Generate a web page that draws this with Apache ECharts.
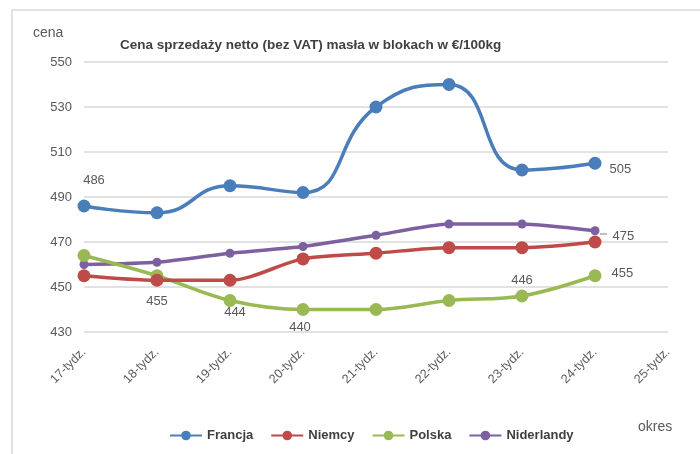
<!DOCTYPE html>
<html><head><meta charset="utf-8">
<script src="https://cdn.jsdelivr.net/npm/echarts@6/dist/echarts.min.js"></script>
<style>html,body{margin:0;padding:0;background:#fff}#c{width:700px;height:454px}</style>
</head><body><div id="c"></div>
<script>
const categories = ['17-tydz.','18-tydz.','19-tydz.','20-tydz.','21-tydz.','22-tydz.','23-tydz.','24-tydz.','25-tydz.'];
const francja = [486, 483, 495, 492, 530, 540, 502, 505];
const niemcy = [455, 453, 453, 462.5, 465, 467.5, 467.5, 470];
const polska = [464, 455, 444, 440, 440, 444, 446, 455];
const niderlandy = [460, 461, 465, 468, 473, 478, 478, 475];
const seriesNames = ['Francja','Niemcy','Polska','Niderlandy'];
const yTicks = [430, 450, 470, 490, 510, 530, 550];

const FONT = "'Liberation Sans',sans-serif";
const labelStyle = {color:'#595959', fontSize:13, fontFamily:FONT};
// which points get a value label, and where
const labelSpec = {
  Francja: {0:{position:'top', offset:[10,-8]}, 7:{position:'right', offset:[3,6]}},
  Niemcy: {},
  Polska: {1:{position:'bottom', offset:[0,8]}, 2:{position:'bottom', offset:[5,-6]}, 3:{position:'bottom', offset:[-3,0]}, 6:{position:'top', offset:[0,2]}, 7:{position:'right', offset:[5,-2]}},
  Niderlandy: {7:{position:'right', offset:[8,6]}}
};
function build(name, vals){
  return vals.map((v,i)=>{
    const s = labelSpec[name][i];
    if(!s) return v;
    return {value:v, label:Object.assign({show:true, formatter:()=>String(Math.round(v))}, labelStyle, s)};
  });
}
const colors = ['#4a7ebb','#be4b48','#98b954','#7d60a0'];
const chart = echarts.init(document.getElementById('c'));
const mk = (name, vals, idx, size, smooth) => ({
  name, type:'line', data:build(name, vals), smooth,
  symbol:'circle', symbolSize:size, showSymbol:true,
  lineStyle:{width:3.5, color:colors[idx]}, itemStyle:{color:colors[idx]},
  label:{show:false}, emphasis:{disabled:true}, z:10-idx
});
chart.setOption({
  animation:false,
  color:colors,
  graphic:[
    {type:'rect', shape:{x:12,y:10,width:700,height:460}, style:{fill:'none', stroke:'#d9d9d9', lineWidth:1.5}, z:-1},
    {type:'text', x:120, y:45, style:{text:'Cena sprzedaży netto (bez VAT) masła w blokach w €/100kg', font:"bold 13.5px "+FONT, fill:'#404040', verticalAlign:'middle'}},
    {type:'text', x:33, y:33, style:{text:'cena', font:"14px "+FONT, fill:'#595959', verticalAlign:'middle'}},
    {type:'text', x:638, y:427, style:{text:'okres', font:"14px "+FONT, fill:'#595959', verticalAlign:'middle'}},
    {type:'line', shape:{x1:600,y1:234,x2:607,y2:234}, style:{stroke:'#7f7f7f', lineWidth:1}}
  ],
  grid:{left:84, right:32, top:62, bottom:122},
  legend:{
    data:seriesNames, bottom:7, left:164, itemWidth:32, itemHeight:12, itemGap:17,
    textStyle:{color:'#404040', fontSize:13, fontWeight:'bold', fontFamily:FONT}
  },
  xAxis:{
    type:'category', data:categories, boundaryGap:false,
    axisLine:{show:false}, axisTick:{show:false},
    axisLabel:{rotate:45, color:'#595959', fontSize:12.5, fontFamily:FONT, margin:18, interval:0}
  },
  yAxis:{
    type:'value', min:430, max:550, interval:20,
    axisLine:{show:false}, axisTick:{show:false},
    axisLabel:{color:'#595959', fontSize:13, fontFamily:FONT, margin:12, formatter:v=>yTicks.includes(v)?String(v):''},
    splitLine:{lineStyle:{color:'#d9d9d9', width:1.5}}
  },
  series:[
    mk('Francja', francja, 0, 13, 0.5),
    mk('Niemcy', niemcy, 1, 13, 0.3),
    mk('Polska', polska, 2, 13, 0.35),
    mk('Niderlandy', niderlandy, 3, 9, 0.2)
  ]
});
</script></body></html>
